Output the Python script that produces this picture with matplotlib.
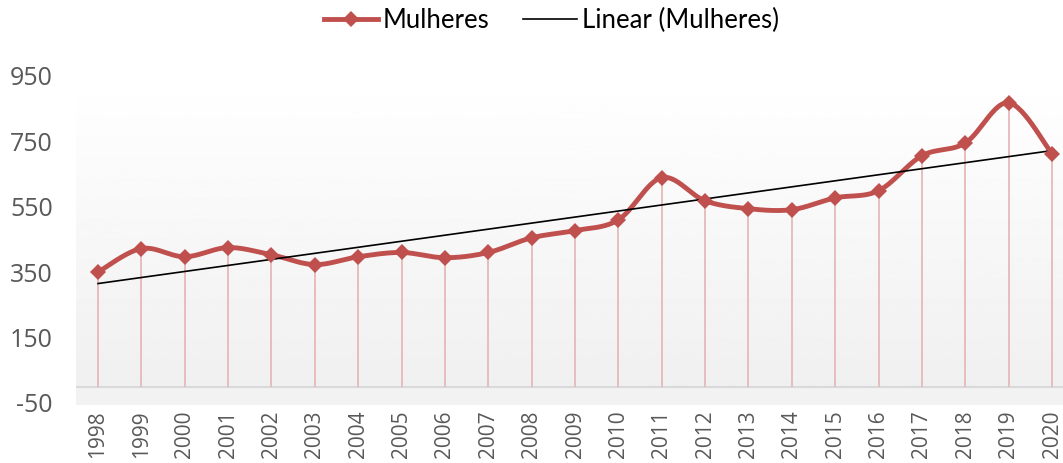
import matplotlib
matplotlib.use('Agg')
import matplotlib.pyplot as plt
import numpy as np
from matplotlib.lines import Line2D

years = list(range(1998, 2021))
mulheres = [350, 422, 397, 425, 403, 373, 397, 410, 394, 410, 455, 477,
            510, 639, 568, 544, 541, 577, 599, 706, 745, 868, 712]
yticks = [-50, 150, 350, 550, 750, 950]

red = '#C0504D'
drop = '#E6B9B8'
gray_txt = '#595959'


def smooth(xs, ys, n=30):
    """Excel-style smoothed line (Catmull-Rom / Bezier at 1/6)."""
    xs = np.asarray(xs, float)
    ys = np.asarray(ys, float)
    px = np.concatenate([[xs[0]], xs, [xs[-1]]])
    py = np.concatenate([[ys[0]], ys, [ys[-1]]])
    out_x, out_y = [], []
    t = np.linspace(0, 1, n)
    for i in range(1, len(px) - 2):
        p0 = np.array([px[i], py[i]])
        p3 = np.array([px[i + 1], py[i + 1]])
        c1 = p0 + (np.array([px[i + 1], py[i + 1]]) - np.array([px[i - 1], py[i - 1]])) / 6
        c2 = p3 - (np.array([px[i + 2], py[i + 2]]) - np.array([px[i], py[i]])) / 6
        b = ((1 - t) ** 3)[:, None] * p0 + (3 * (1 - t) ** 2 * t)[:, None] * c1 \
            + (3 * (1 - t) * t ** 2)[:, None] * c2 + (t ** 3)[:, None] * p3
        out_x.extend(b[:, 0])
        out_y.extend(b[:, 1])
    return out_x, out_y


fig = plt.figure(figsize=(10.63, 4.63), dpi=100)
ax = fig.add_axes([0.0718, 0.1263, 0.9383, 0.7097])
ax.set_xlim(1997.5, 2020.5)
ax.set_ylim(-55, 950)

# gradient plot area + floor
grad = np.linspace(0.94, 1.0, 256).reshape(-1, 1)
ax.imshow(grad, cmap='gray', vmin=0, vmax=1, aspect='auto', origin='lower',
          extent=(1997.5, 2020.5, 0, 950), zorder=0)
ax.axhspan(-55, 0, color='#F2F2F2', zorder=0.5, lw=0)
ax.axhline(0, color='#D9D9D9', lw=1.5, zorder=1)

# drop lines
ax.vlines(years, 0, mulheres, color=drop, lw=1.3, zorder=2)

# trend line
coef = np.polyfit(years, mulheres, 1)
ax.plot([years[0], years[-1]], np.polyval(coef, [years[0], years[-1]]),
        color='black', lw=1.2, zorder=4)

sx, sy = smooth(years, mulheres)
ax.plot(sx, sy, color=red, lw=3.5, zorder=3, solid_capstyle='round')
ax.plot(years, mulheres, 'D', color=red, ms=8.5, mew=0, zorder=5)

for s in ax.spines.values():
    s.set_visible(False)
ax.set_yticks(yticks)
ax.set_yticklabels([str(v) for v in yticks], fontsize=18, color=gray_txt,
                   family='Open Sans')
ax.set_xticks(years)
ax.set_xticklabels([str(y) for y in years], rotation=90, fontsize=15,
                   color=gray_txt, family='Open Sans')
ax.tick_params(axis='y', length=0, pad=17)
ax.tick_params(axis='x', length=0, pad=4)

handles = [Line2D([], [], color=red, lw=3.5, marker='D', ms=8.5, mew=0),
           Line2D([], [], color='black', lw=1.2)]
fig.legend(handles, ['Mulheres', 'Linear (Mulheres)'], loc='center',
           bbox_to_anchor=(0.519, 0.955), ncol=2, frameon=False,
           handlelength=2.1, handletextpad=0.2, columnspacing=1.3,
           prop={'family': 'Lato', 'size': 18.5})

fig.savefig('out.png', dpi=100)
